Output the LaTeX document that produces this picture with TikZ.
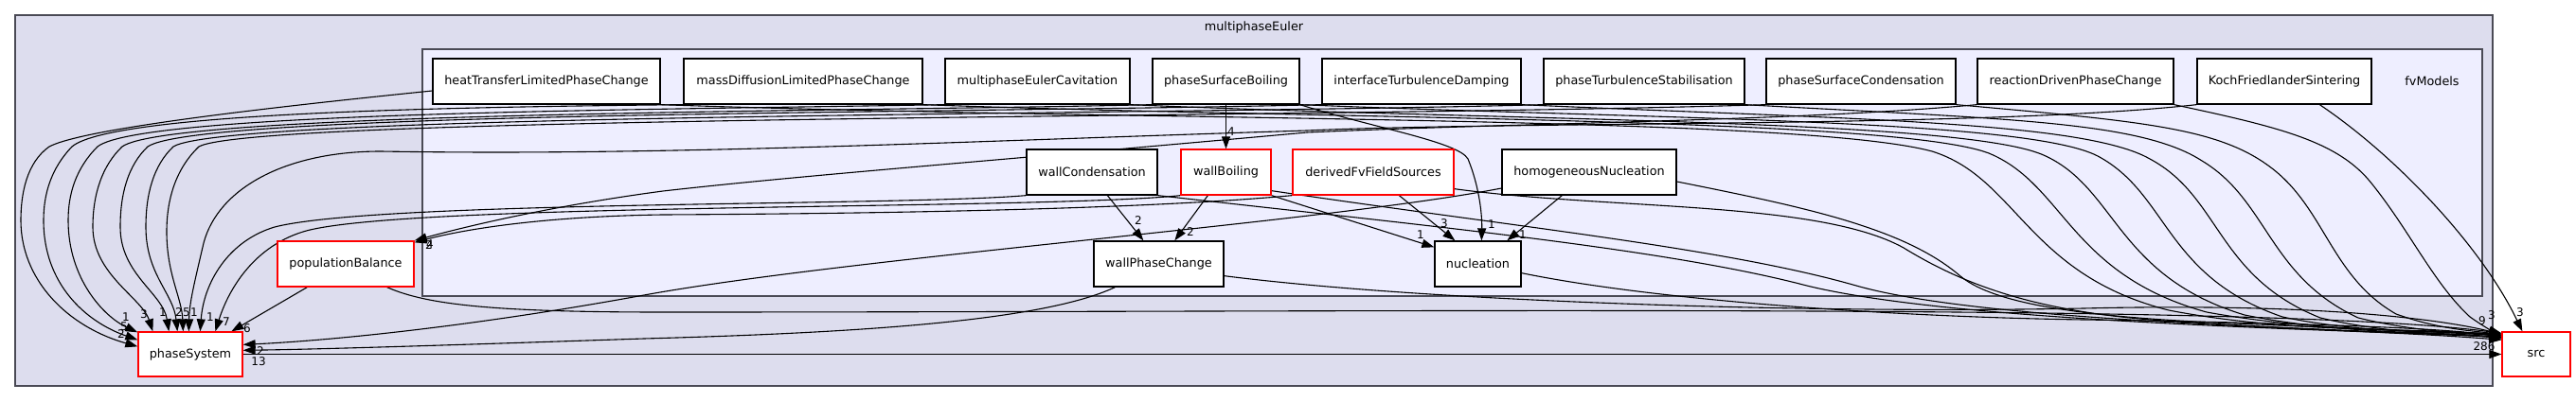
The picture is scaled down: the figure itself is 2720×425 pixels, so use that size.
\documentclass[tikz,border=0pt]{standalone}
\usepackage{fontspec}
\setmainfont{DejaVu Sans}
\usetikzlibrary{arrows.meta}
\pgfdeclarelayer{bg}
\pgfdeclarelayer{edgelayer}
\pgfsetlayers{bg,edgelayer,main}
\definecolor{outerfill}{HTML}{DDDDEE}
\definecolor{innerfill}{HTML}{EEEEFF}
\definecolor{clborder}{HTML}{4A4A55}
\tikzset{
  dnode/.style={draw=black, fill=white, line width=1.3pt, minimum height=48pt, inner sep=0pt, font=\fontsize{12.8}{15}\selectfont},
  rnode/.style={dnode, draw=red},
  dep/.style={line width=1.1pt, -{Triangle[length=13pt,width=9pt]}},
  elab/.style={inner sep=0pt, font=\fontsize{12}{14}\selectfont},
  cluster/.style={line width=2pt, draw=clborder},
  cllabel/.style={inner sep=0pt, font=\fontsize{12.8}{15}\selectfont}
}
\begin{document}
\begin{tikzpicture}[x=1pt, y=-1pt]
\useasboundingbox (0,0) rectangle (2720,425);
\begin{pgfonlayer}{bg}
\draw[cluster, fill=outerfill] (16,16) rectangle (2632,408);
\draw[cluster, fill=innerfill] (446,52) rectangle (2621,313);
\end{pgfonlayer}
\node[cllabel] (lblME) at (1324,29) {multiphaseEuler};
\node[cllabel] (lblFV) at (2568,86) {fvModels};
% top row
\node[dnode, minimum width=240pt] (hT) at (577,86) {heatTransferLimitedPhaseChange};
\node[dnode, minimum width=252pt] (mD) at (848,86) {massDiffusionLimitedPhaseChange};
\node[dnode, minimum width=195pt] (mEC) at (1095.5,86) {multiphaseEulerCavitation};
\node[dnode, minimum width=155pt] (pSB) at (1294.5,86) {phaseSurfaceBoiling};
\node[dnode, minimum width=210pt] (iTD) at (1501,86) {interfaceTurbulenceDamping};
\node[dnode, minimum width=212pt] (pTS) at (1736,86) {phaseTurbulenceStabilisation};
\node[dnode, minimum width=200pt] (pSC) at (1965,86) {phaseSurfaceCondensation};
\node[dnode, minimum width=207pt] (rDPC) at (2191.5,86) {reactionDrivenPhaseChange};
\node[dnode, minimum width=184pt] (KFS) at (2412,86) {KochFriedlanderSintering};
% middle row
\node[dnode, minimum width=138pt] (wC) at (1153,182) {wallCondensation};
\node[rnode, minimum width=95pt] (wB) at (1294.5,182) {wallBoiling};
\node[rnode, minimum width=170pt] (dFFS) at (1450,182) {derivedFvFieldSources};
\node[dnode, minimum width=184pt] (hN) at (1678,182) {homogeneousNucleation};
% lower row
\node[rnode, minimum width=144pt] (pB) at (365,279) {populationBalance};
\node[dnode, minimum width=137pt] (wPC) at (1223.5,279) {wallPhaseChange};
\node[dnode, minimum width=91pt] (nuc) at (1560.5,279) {nucleation};
\node[rnode, minimum width=110pt, minimum height=47pt] (ps) at (201,374.5) {phaseSystem};
\node[rnode, minimum width=72pt, minimum height=47pt] (src) at (2678,374.5) {src};

\begin{pgfonlayer}{edgelayer}
% ---- to phaseSystem, left column
\draw[dep] ([yshift=-10pt]hT.west) .. controls (300,112) and (90,135) .. (52,155) .. controls (28,172) and (22,205) .. (22,233) .. controls (22,295) and (70,345) .. ([yshift=-16pt]ps.north west);
\draw[dep] (mD.south west) .. controls (500,113) and (120,118) .. (76,155) .. controls (54,178) and (46,205) .. (46,233) .. controls (46,300) and (90,340) .. ([yshift=-9pt]ps.north west);
\draw[dep] (mEC.south west) .. controls (700,116) and (150,118) .. (103,155) .. controls (80,178) and (72,205) .. (72,233) .. controls (72,295) and (110,335) .. ([yshift=-1pt]ps.north west);
\draw[dep] (pSB.south west) .. controls (900,118) and (180,118) .. (129,155) .. controls (108,175) and (98,205) .. (98,240) .. controls (98,290) and (150,315) .. ([xshift=16pt]ps.north west);
\draw[dep] (iTD.south west) .. controls (1000,120) and (210,118) .. (156,155) .. controls (135,175) and (127,205) .. (127,240) .. controls (127,290) and (172,310) .. ([xshift=33pt]ps.north west);
\draw[dep] (pTS.south west) .. controls (1200,122) and (240,120) .. (183,155) .. controls (162,175) and (154,205) .. (154,240) .. controls (154,290) and (183,310) .. ([xshift=42pt]ps.north west);
\draw[dep] (pSC.south west) .. controls (1400,125) and (270,122) .. (210,155) .. controls (186,178) and (176,210) .. (176,245) .. controls (176,290) and (192,315) .. ([xshift=48pt]ps.north west);
\draw[dep] (KFS.south west) .. controls (2100,135) and (1600,128) .. (1380,138) .. controls (1000,150) and (700,165) .. (402,160) .. controls (300,160) and (230,200) .. (215,257) .. controls (205,300) and (200,320) .. ([xshift=54pt]ps.north west);
\draw[dep] (wC.south west) .. controls (950,218) and (400,212) .. (290,240) .. controls (240,255) and (215,300) .. ([xshift=66pt]ps.north west);
\draw[dep] (wB.south west) .. controls (1100,222) and (420,214) .. (320,245) .. controls (265,262) and (240,310) .. ([xshift=82pt]ps.north west);
\draw[dep] ([xshift=32pt]pB.south west) -- ([xshift=99pt]ps.north west);
\draw[dep] ([yshift=-17pt]hN.west) .. controls (1400,235) and (900,272) .. (680,312) .. controls (500,345) and (350,360) .. ([yshift=-14pt]ps.north east);
\draw[dep] ([xshift=23pt]wPC.south west) .. controls (1100,340) and (900,352) .. (680,358) .. controls (500,364) and (350,369) .. ([yshift=-20pt]ps.north east);
% ---- to populationBalance
\draw[dep] (rDPC.south west) .. controls (1900,128) and (1600,130) .. (1380,140) .. controls (1050,170) and (850,185) .. (700,202) .. controls (580,218) and (490,240) .. (pB.north east);
\draw[dep] (dFFS.south west) .. controls (1200,222) and (900,226) .. (700,227) .. controls (560,229) and (480,245) .. ([yshift=-2pt]pB.north east);
% ---- inside fvModels
\draw[dep] (pSB.south) -- (wB.north);
\draw[dep] ([xshift=86pt]wC.south west) -- ([xshift=53pt]wPC.north west);
\draw[dep] ([xshift=29pt]wB.south west) -- ([xshift=86pt]wPC.north west);
\draw[dep] (wB.south east) -- ([yshift=-7pt]nuc.north west);
\draw[dep] ([xshift=113pt]dFFS.south west) -- ([xshift=22pt]nuc.north west);
\draw[dep] (pSB.south east) .. controls (1450,135) and (1540,150) .. (1550,168) .. controls (1563,200) and (1565,230) .. ([xshift=50pt]nuc.north west);
\draw[dep] ([xshift=64pt]hN.south west) -- ([xshift=77pt]nuc.north west);
% ---- to src
\draw[dep] (ps.east) -- (src.west);
\draw[dep] (hT.south east) .. controls (1200,128) and (1900,122) .. (2040,160) .. controls (2130,188) and (2140,290) .. (2290,328) .. controls (2430,355) and (2570,345) .. ([yshift=-6pt]src.north west);
\draw[dep] (mD.south east) .. controls (1400,126) and (2000,124) .. (2100,162) .. controls (2180,195) and (2185,290) .. (2330,330) .. controls (2450,352) and (2570,348) .. ([yshift=-4pt]src.north west);
\draw[dep] (mEC.south east) .. controls (1600,128) and (2080,126) .. (2160,165) .. controls (2235,200) and (2235,292) .. (2370,333) .. controls (2480,355) and (2580,350) .. ([yshift=-7pt]src.north west);
\draw[dep] (pSB.south east) .. controls (1750,126) and (2140,126) .. (2215,165) .. controls (2290,205) and (2285,292) .. (2410,335) .. controls (2500,354) and (2590,350) .. ([yshift=-3pt]src.north west);
\draw[dep] (iTD.south east) .. controls (1950,126) and (2200,128) .. (2270,168) .. controls (2345,208) and (2340,292) .. (2450,336) .. controls (2530,355) and (2600,352) .. ([yshift=-8pt]src.north west);
\draw[dep] (pTS.south east) .. controls (2120,126) and (2260,128) .. (2325,170) .. controls (2395,212) and (2395,292) .. (2490,336) .. controls (2555,352) and (2610,352) .. ([yshift=-4pt]src.north west);
\draw[dep] (pSC.south east) .. controls (2260,128) and (2340,135) .. (2395,175) .. controls (2455,218) and (2460,292) .. (2530,332) .. controls (2580,350) and (2620,350) .. ([yshift=-5pt]src.north west);
\draw[dep] (rDPC.south east) .. controls (2410,135) and (2470,150) .. (2505,195) .. controls (2545,245) and (2570,300) .. (2608,335) .. controls (2622,345) and (2632,350) .. ([yshift=-2pt]src.north west);
\draw[dep] ([xshift=130pt]KFS.south west) .. controls (2530,165) and (2620,260) .. ([xshift=22pt]src.north west);
\draw[dep] (wC.south east) .. controls (1500,238) and (1750,262) .. (1900,300) .. controls (2050,340) and (2450,348) .. ([yshift=-6pt]src.north west);
\draw[dep] ([yshift=5pt]wB.south east) .. controls (1600,240) and (1820,262) .. (1960,302) .. controls (2100,342) and (2480,346) .. ([yshift=-9pt]src.north west);
\draw[dep] ([yshift=7pt]dFFS.south east) .. controls (1700,222) and (1920,212) .. (2010,262) .. controls (2080,305) and (2160,332) .. (2300,340) .. controls (2450,350) and (2580,352) .. ([yshift=-7pt]src.north west);
\draw[dep] ([yshift=-10pt]hN.east) .. controls (1900,218) and (2010,240) .. (2070,292) .. controls (2110,325) and (2220,336) .. (2360,342) .. controls (2500,348) and (2600,352) .. ([yshift=-5pt]src.north west);
\draw[dep] ([yshift=12pt]wPC.south east) .. controls (1500,318) and (1900,332) .. (2200,326) .. controls (2450,320) and (2580,338) .. ([yshift=-3pt]src.north west);
\draw[dep] ([yshift=15pt]nuc.south east) .. controls (1750,318) and (2000,335) .. (2200,338) .. controls (2400,341) and (2580,346) .. ([yshift=-6pt]src.north west);
\draw[dep] ([xshift=-29pt]pB.south east) .. controls (450,322) and (520,330) .. (700,330) .. controls (1500,330) and (2400,320) .. ([yshift=-2pt]src.north west);
\end{pgfonlayer}

% ---- edge labels
\node[elab] (lA) at (128,353) {2};
\node[elab] (lB) at (131,345) {5};
\node[elab] (lC) at (133,335) {1};
\node[elab] (lD) at (152,332) {3};
\node[elab] (lE) at (172,330) {1};
\node[elab] (lF) at (189,330) {2};
\node[elab] (lG) at (197,330) {5};
\node[elab] (lH) at (205,330) {1};
\node[elab] (lI) at (222,335) {1};
\node[elab] (lJ) at (239,340) {7};
\node[elab] (lK) at (261,347) {6};
\node[elab] (lL) at (275,371) {2};
\node[elab] (lM) at (273,382) {13};
\node[elab] (lN) at (453,259) {2};
\node[elab] (lO) at (454,258) {4};
\node[elab] (lP) at (1300,139) {4};
\node[elab] (lQ) at (1202,233) {2};
\node[elab] (lR) at (1257,245) {2};
\node[elab] (lS) at (1525,236) {3};
\node[elab] (lT) at (1500,248) {1};
\node[elab] (lU) at (1575,237) {1};
\node[elab] (lV) at (1608,248) {1};
\node[elab] (lW) at (2621,339) {9};
\node[elab] (lX) at (2631,333) {3};
\node[elab] (lY) at (2661,330) {3};
\node[elab] (lZ) at (2623,366) {286};
\end{tikzpicture}
\end{document}
